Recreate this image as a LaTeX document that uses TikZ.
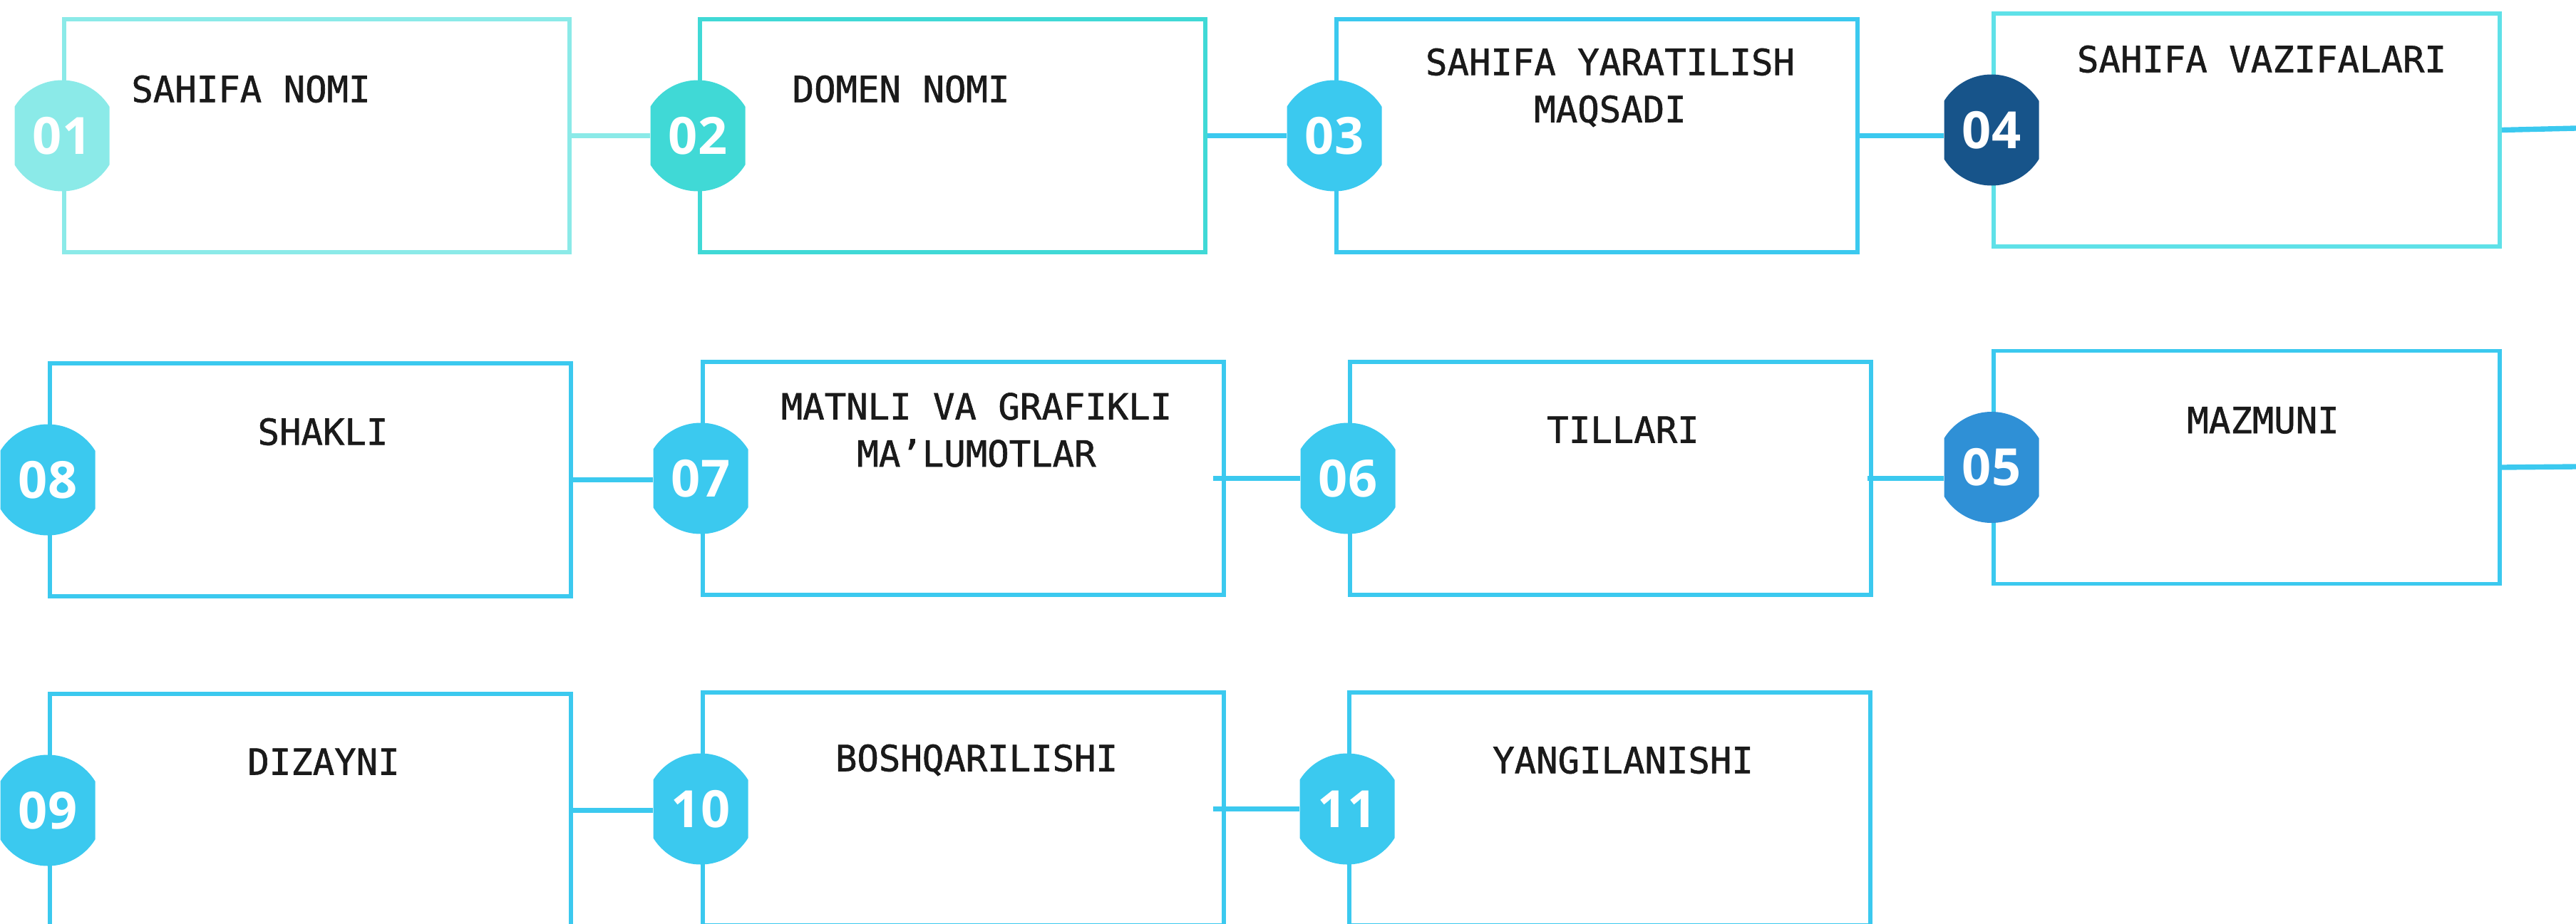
\documentclass[tikz,border=0pt]{standalone}
\usepackage{fontspec}
\newfontfamily\lblfont[FakeBold=1.2]{DejaVu Sans Mono}
\newfontfamily\numfont{Open Sans}
\definecolor{cOne}{HTML}{8BEAE8}
\definecolor{cTwo}{HTML}{40D9D6}
\definecolor{cMain}{HTML}{3BC9EF}
\definecolor{cFour}{HTML}{5FE1E8}
\definecolor{cNavy}{HTML}{17548A}
\definecolor{cMid}{HTML}{2F90D6}
\definecolor{ink}{HTML}{1A1A1A}
\tikzset{
  box/.style={rectangle,draw=cMain,line width=1.7pt,minimum width=7.31cm,minimum height=3.27cm,inner sep=0pt},
  badge/.style={rectangle,minimum width=1.33cm,minimum height=1.56cm,inner sep=0pt,text=white,
    font=\numfont\bfseries\fontsize{20.5}{24}\selectfont,
    path picture={\fill[#1] (path picture bounding box.center) circle (0.78cm);}},
  badge/.default=cMain,
  lbl/.style={text=ink,align=center,inner sep=0pt,font=\lblfont\fontsize{14.4}{18.8}\selectfont},
  link/.style={draw=cMain,line width=2.1pt},
}
\begin{document}
\begin{tikzpicture}
                    \useasboundingbox (0,0) rectangle (36.14,-12.96);
                    \node[box,draw=cOne,minimum width=7.09cm](b1) at (4.445,-1.905){};
                    \node[box,draw=cTwo,minimum width=7.09cm](b2) at (13.365,-1.905){};
                    \node[box](b3) at (22.405,-1.905){};
                    \node[box,draw=cFour,minimum width=7.10cm](b4) at (31.52,-1.825){};
                    \node[box,minimum width=7.10cm](b5) at (31.52,-6.56){};
                    \node[box](b6) at (22.595,-6.715){};
                    \node[box](b7) at (13.515,-6.715){};
                    \node[box](b8) at (4.355,-6.735){};
                    \node[box](b9) at (4.355,-11.375){};
                    \node[box](b10) at (13.515,-11.355){};
                    \node[box](b11) at (22.585,-11.355){};
                    \node[badge=cOne](n1) at (b1.west){01};
                    \node[badge=cTwo](n2) at (b2.west){02};
                    \node[badge](n3) at (b3.west){03};
                    \node[badge=cNavy](n4) at (b4.west){04};
                    \node[badge=cMid](n5) at (b5.west){05};
                    \node[badge](n6) at (b6.west){06};
                    \node[badge](n7) at (b7.west){07};
                    \node[badge](n8) at (b8.west){08};
                    \node[badge](n9) at (b9.west){09};
                    \node[badge](n10) at (b10.west){10};
                    \node[badge](n11) at (b11.west){11};
                    \coordinate (e1) at (36.14,-1.80);
                    \coordinate (e2) at (36.14,-6.55);
                    \draw[link,draw=cOne](b1.east)--(b1.east-|n2.west);
                    \draw[link](b2.east)--(b2.east-|n3.west);
                    \draw[link](b3.east)--(b3.east-|n4.west);
                    \draw[link](b4.east)--(e1);
                    \draw[link](b8.east)--(b8.east-|n7.west);
                    \draw[link,shorten <=-1.8mm](b7.east)--(b7.east-|n6.west);
                    \draw[link,shorten <=-0.8mm](b6.east)--(b6.east-|n5.west);
                    \draw[link](b5.east)--(e2);
                    \draw[link](b9.east)--(b9.east-|n10.west);
                    \draw[link,shorten <=-1.8mm](b10.east)--(b10.east-|n11.west);
                    \node[lbl](t1) at (3.52,-1.25){SAHIFA NOMI};
                    \node[lbl](t2) at (12.64,-1.25){DOMEN NOMI};
                    \node[lbl](t3) at (22.59,-1.23){SAHIFA YARATILISH\\MAQSADI};
                    \node[lbl](t4) at (31.73,-0.83){SAHIFA VAZIFALARI};
                    \node[lbl](t5) at (31.75,-5.90){MAZMUNI};
                    \node[lbl](t6) at (22.77,-6.03){TILLARI};
                    \node[lbl](t7) at (13.70,-6.035){MATNLI VA GRAFIKLI\\MA’LUMOTLAR};
                    \node[lbl](t8) at (4.53,-6.06){SHAKLI};
                    \node[lbl](t9) at (4.54,-10.69){DIZAYNI};
                    \node[lbl](t10) at (13.70,-10.67){BOSHQARILISHI};
                    \node[lbl](t11) at (22.77,-10.67){YANGILANISHI};
                \end{tikzpicture}
\end{document}
